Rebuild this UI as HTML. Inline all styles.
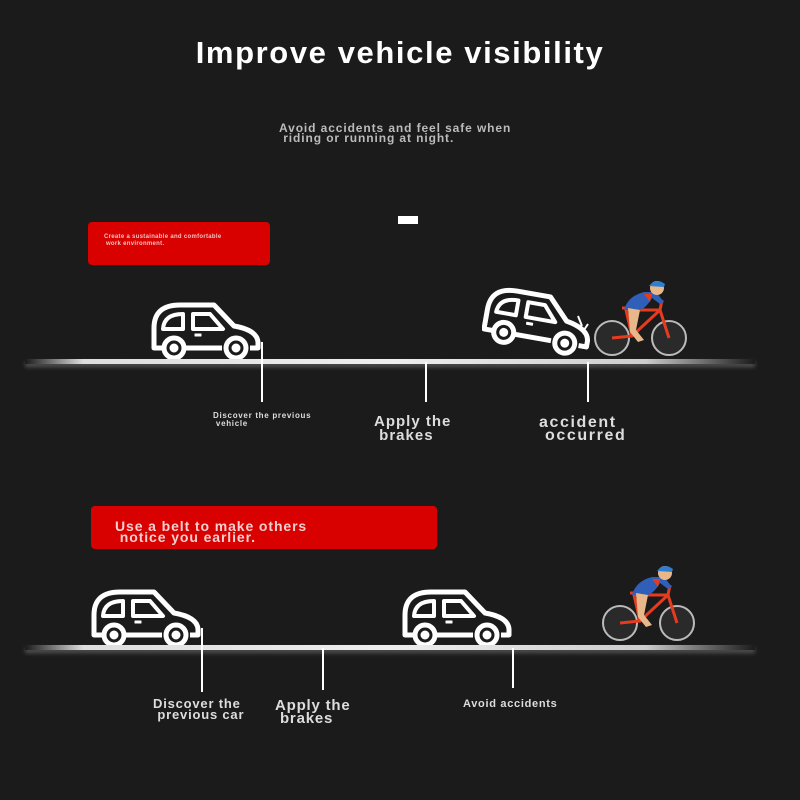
<!DOCTYPE html>
<html><head><meta charset="utf-8"><style>
body{margin:0;width:800px;height:800px;background:#1b1b1b;overflow:hidden;position:relative;font-family:"Liberation Sans",sans-serif;font-weight:bold}
.t{position:absolute;white-space:pre;line-height:1}
.road{position:absolute;left:25px;width:730px;height:5px;background:linear-gradient(90deg,rgba(255,255,255,0),#ddd 8%,#eee 50%,#ccc 85%,rgba(255,255,255,0));box-shadow:0 3px 4px rgba(255,255,255,0.25)}
.tick{position:absolute;width:2px;background:#fff}
.red{position:absolute;background:#d90000;border-radius:4px}
</style></head><body>
<svg width="0" height="0" style="position:absolute"><defs>
<g id="car" fill="none" stroke="#fff" stroke-width="5" stroke-linejoin="round">
<path d="M12,46 H4 V26 Q4,3 30,3 H64 L84,24 Q107,28 108,40 V46 H100"/>
<path d="M36,46 H72"/>
<circle cx="24" cy="46" r="10"/><circle cx="86" cy="46" r="10"/>
<circle cx="24" cy="46" r="2" fill="#fff"/><circle cx="86" cy="46" r="2" fill="#fff"/>
<path d="M13,27 Q14,12 33,12 V27 Z" stroke-width="4"/>
<path d="M43,12 H60 L73,27 H43 Z" stroke-width="4"/>
<rect x="45" y="32" width="6" height="2" fill="#fff" stroke-width="1"/>
</g>
<g id="bike">
<circle cx="18" cy="58" r="17" fill="#2a2a2a" stroke="#bbb" stroke-width="2"/>
<circle cx="75" cy="58" r="17" fill="#2a2a2a" stroke="#bbb" stroke-width="2"/>
<path d="M18,58 L38,56 L66,30 L75,58 M38,56 L32,30 L66,30 M28,28 H38 M66,30 L68,20" stroke="#e53b1f" stroke-width="3" fill="none"/>
<path d="M30,30 Q34,16 50,12 L62,12 L70,22 L66,24 L58,18 Q52,28 46,30 Z" fill="#2f5fb8"/>
<path d="M34,28 L46,30 L42,50 L50,60 L44,62 L36,52 Z" fill="#e8b88a"/>
<path d="M50,14 L58,14 L56,22Z" fill="#e53b1f"/>
<circle cx="63" cy="8" r="7" fill="#e8b88a"/>
<path d="M55,6 Q62,-3 71,4 L70,7 Z" fill="#2f7fd0"/>
</g>
</defs></svg>

<div class="t" style="left:0;width:800px;text-align:center;top:37px;font-size:31px;color:#fff;letter-spacing:1.6px">Improve vehicle visibility</div>
<div class="t" style="left:279px;top:123px;font-size:12px;color:#bbb;letter-spacing:0.9px;line-height:10px">Avoid accidents and feel safe when
 riding or running at night.</div>
<div style="position:absolute;left:398px;top:216px;width:20px;height:8px;background:#fff"></div>

<div class="red" style="left:88px;top:222px;width:182px;height:43px"></div>
<div class="t" style="left:104px;top:234px;font-size:6px;color:#f0c0c0;line-height:7px;letter-spacing:0.3px">Create a sustainable and comfortable
 work environment.</div>

<svg style="position:absolute;left:150px;top:302px" width="115" height="62"><use href="#car"/></svg>
<svg style="position:absolute;left:482px;top:286px" width="115" height="76"><g transform="translate(0,6) rotate(10 55 30)"><use href="#car"/></g><path d="M96,30 L100,40 M106,38 L102,44" stroke="#fff" stroke-width="2"/></svg>
<svg style="position:absolute;left:594px;top:280px" width="96" height="80"><use href="#bike"/></svg>
<div class="road" style="top:359px"></div>
<div class="tick" style="left:261px;top:342px;height:60px"></div>
<div class="tick" style="left:425px;top:362px;height:40px"></div>
<div class="tick" style="left:587px;top:362px;height:40px"></div>
<div class="t" style="left:213px;top:412px;font-size:8px;color:#ddd;line-height:8px;letter-spacing:0.7px">Discover the previous
 vehicle</div>
<div class="t" style="left:374px;top:415px;font-size:15px;color:#ddd;line-height:14px;letter-spacing:1px">Apply the
 brakes</div>
<div class="t" style="left:539px;top:416px;font-size:16px;color:#ddd;line-height:13px;letter-spacing:1.6px">accident
 occurred</div>

<div class="red" style="left:91px;top:506px;width:346px;height:43px"></div>
<div class="t" style="left:115px;top:521px;font-size:14px;color:#f2d0d0;line-height:11px;letter-spacing:0.9px">Use a belt to make others
 notice you earlier.</div>

<svg style="position:absolute;left:90px;top:589px" width="115" height="62"><use href="#car"/></svg>
<svg style="position:absolute;left:401px;top:589px" width="115" height="62"><use href="#car"/></svg>
<svg style="position:absolute;left:602px;top:565px" width="96" height="80"><use href="#bike"/></svg>
<div class="road" style="top:645px"></div>
<div class="tick" style="left:201px;top:628px;height:64px"></div>
<div class="tick" style="left:322px;top:648px;height:42px"></div>
<div class="tick" style="left:512px;top:648px;height:40px"></div>
<div class="t" style="left:153px;top:698px;font-size:13px;color:#ddd;line-height:11px;letter-spacing:0.8px">Discover the
 previous car</div>
<div class="t" style="left:275px;top:699px;font-size:15px;color:#ddd;line-height:13px;letter-spacing:0.8px">Apply the
 brakes</div>
<div class="t" style="left:463px;top:699px;font-size:11px;color:#ddd;letter-spacing:0.7px">Avoid accidents</div>
</body></html>
